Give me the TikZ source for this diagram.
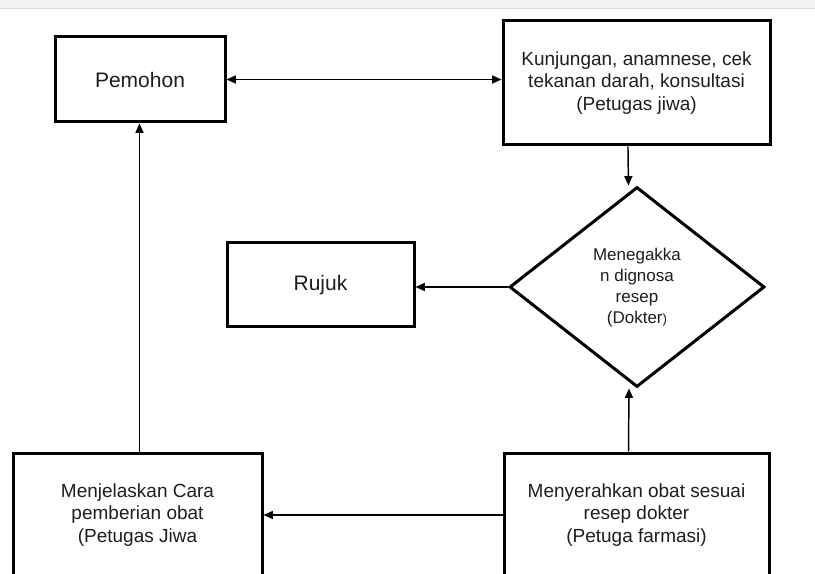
\documentclass[tikz,border=0pt]{standalone}
\usepackage{fontspec}
\setmainfont{Liberation Sans}
\usetikzlibrary{shapes.geometric,arrows.meta,calc}
\definecolor{txt}{HTML}{1E1E1E}
\definecolor{band}{HTML}{F3F3F3}
\definecolor{bandline}{HTML}{DADADA}
\begin{document}
\begin{tikzpicture}[x=0.75pt,y=-0.75pt,
  boxnode/.style={draw=black,line width=2.25pt,rectangle,align=center,text=txt,inner sep=0pt},
  bigtext/.style={font=\fontsize{15.75pt}{18pt}\selectfont},
  midtext/.style={font=\fontsize{14.25pt}{17pt}\selectfont},
  arr/.style={line width=1.1pt,-{Triangle[length=7pt,width=6pt]}},
  darr/.style={line width=1.1pt,{Triangle[length=7pt,width=6pt]}-{Triangle[length=7pt,width=6pt]}}]
\useasboundingbox (0,0) rectangle (815,574);
\clip (0,0) rectangle (815,574);
\fill[white] (0,0) rectangle (815,574);
\fill[band] (0,0) rectangle (815,8);
\draw[bandline,line width=0.8pt] (0,8.5) -- (815,8.5);

\node[boxnode,bigtext,minimum width=127.5pt,minimum height=63.75pt] (pem) at (140,79.5) {Pemohon};
\node[boxnode,midtext,minimum width=200.25pt,minimum height=93pt] (kunj) at (636.5,83)
  {Kunjungan, anamnese, cek\\tekanan darah, konsultasi\\(Petugas jiwa)};
\node[diamond,draw=black,line width=2.25pt,minimum width=191.25pt,minimum height=150pt,inner sep=0pt] (dia) at (637,287) {};
\node[align=center,text=txt,font=\fontsize{12.75pt}{15.75pt}\selectfont,inner sep=0pt] (diatext) at (637,288)
  {Menegakka\\n dignosa\\resep\\(Dokter{\fontsize{10pt}{12pt}\selectfont)}};
\node[boxnode,bigtext,minimum width=140.25pt,minimum height=63pt] (rujuk) at (320.5,285) {Rujuk};
\node[boxnode,midtext,minimum width=186.75pt,minimum height=93pt] (menj) at (137.5,515)
  {Menjelaskan Cara\\pemberian obat\\(Petugas Jiwa};
\node[boxnode,midtext,minimum width=198.75pt,minimum height=93pt] (meny) at (636.5,515)
  {Menyerahkan obat sesuai\\resep dokter\\(Petuga farmasi)};

\draw[darr] (pem.east) -- (pem.east -| kunj.west);
\draw[arr] ([xshift=-6.4pt]kunj.south) -- ([xshift=-6.4pt]dia.north);
\draw[arr] (dia.west) -- (dia.west -| rujuk.east);
\draw[arr] ([xshift=-6pt]meny.north) -- ([xshift=-6pt]dia.south);
\draw[arr] (meny.west) -- (menj.east);
\draw[arr] ([xshift=1.5pt]menj.north) -- ([xshift=1.5pt]menj.north |- pem.south);
\end{tikzpicture}
\end{document}
